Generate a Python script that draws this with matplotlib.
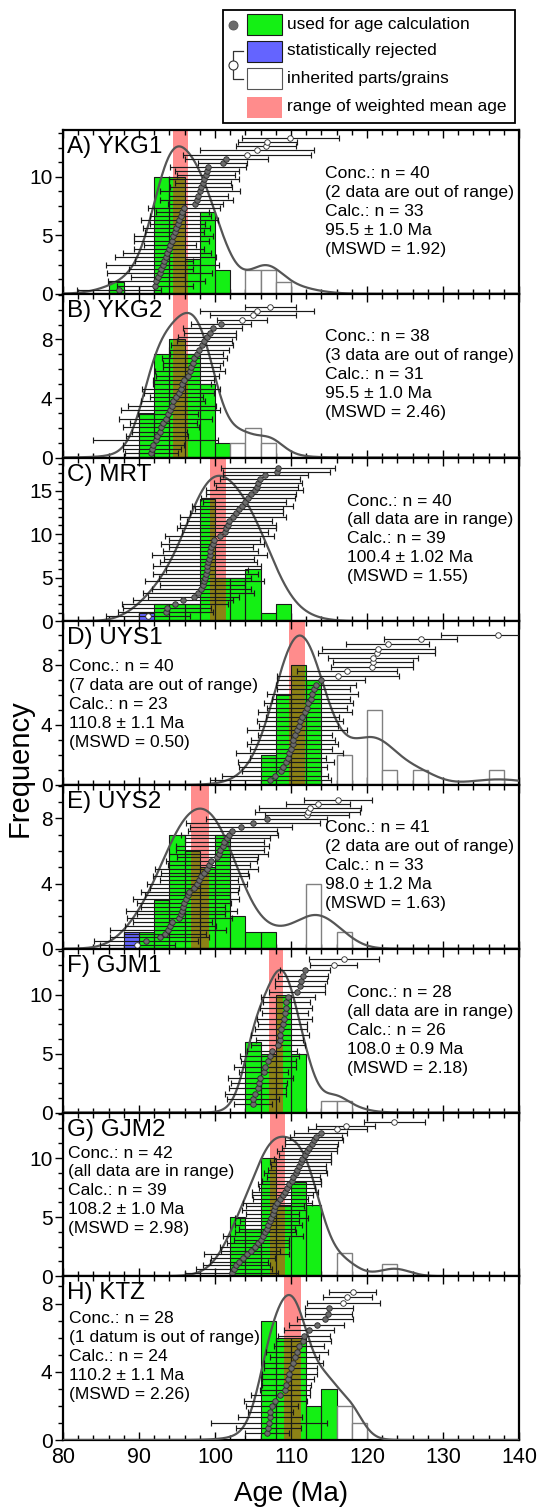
import numpy as np
import matplotlib
matplotlib.use("Agg")
import matplotlib.pyplot as plt
from matplotlib.patches import Rectangle
from matplotlib.lines import Line2D
from matplotlib.ticker import MultipleLocator

plt.rcParams['font.family'] = ['Liberation Sans', 'DejaVu Sans']

# ---- data ----
names = ['A) YKG1', 'B) YKG2', 'C) MRT', 'D) UYS1', 'E) UYS2', 'F) GJM1', 'G) GJM2', 'H) KTZ']
conc_n = [40, 38, 40, 40, 41, 28, 42, 28]
range_note = ['(2 data are out of range)', '(3 data are out of range)', '(all data are in range)',
              '(7 data are out of range)', '(2 data are out of range)', '(all data are in range)',
              '(all data are in range)', '(1 datum is out of range)']
wm_age = ['95.5', '95.5', '100.4', '110.8', '98.0', '108.0', '108.2', '110.2']
wm_err = ['1.0', '1.0', '1.02', '1.1', '1.2', '0.9', '1.0', '1.1']
mswd = ['1.92', '2.46', '1.55', '0.50', '1.63', '2.18', '2.98', '2.26']

used_ages = [
    [87.4, 92.1, 92.3, 92.5, 92.7, 92.9, 93.1, 93.3, 93.5, 93.7, 93.9, 94.1, 94.3, 94.5, 94.7, 94.9,
     95.1, 95.3, 95.5, 95.7, 95.9, 97.4, 97.6, 97.8, 98.0, 98.2, 98.4, 98.6, 98.8, 98.9, 99.1, 101.0, 101.5],
    [91.6, 91.7, 91.9, 92.2, 92.4, 92.7, 92.9, 93.2, 93.5, 93.8, 94.1, 94.3, 94.5, 94.9, 95.3, 95.5,
     95.7, 95.9, 96.4, 96.7, 96.9, 97.1, 97.3, 97.6, 97.9, 98.3, 98.6, 98.9, 99.3, 99.7, 100.8],
    [93.5, 93.7, 94.7, 95.8, 97.2, 97.8, 98.2, 98.4, 98.6, 98.7, 98.8, 98.9, 99.0, 99.1, 99.2, 99.3,
     99.4, 99.5, 99.7, 99.9, 100.6, 101.3, 101.5, 101.7, 101.9, 102.4, 102.8, 103.2, 103.6, 103.9,
     104.3, 104.7, 105.2, 105.5, 105.7, 105.9, 106.6, 108.1, 108.3],
    [107.3, 107.9, 108.7, 108.9, 109.3, 109.6, 109.8, 109.95, 110.2, 110.3, 110.5, 110.8, 111.0,
     111.2, 111.5, 111.8, 112.1, 112.3, 112.6, 112.8, 113.0, 113.3, 113.9],
    [90.9, 92.7, 93.4, 93.8, 94.1, 94.4, 95.3, 95.5, 95.6, 95.8, 95.95, 96.2, 96.4, 96.6, 97.3, 97.6,
     97.9, 98.2, 98.6, 98.9, 99.2, 99.5, 100.3, 100.5, 100.7, 101.0, 101.2, 101.6, 101.9, 102.3,
     103.4, 105.0, 106.8],
    [105.0, 105.0, 105.3, 105.6, 105.8, 105.95, 106.4, 106.6, 107.0, 107.2, 107.5, 108.3, 108.5,
     108.6, 108.7, 108.9, 109.1, 109.2, 109.3, 109.4, 109.6, 110.8, 111.2, 111.3, 111.6, 111.8],
    [102.2, 102.5, 102.8, 103.2, 103.7, 104.2, 104.7, 105.2, 105.7, 106.1, 106.3, 106.6, 106.8, 107.0,
     107.2, 107.4, 107.6, 107.8, 107.9, 108.2, 108.6, 108.9, 109.2, 109.5, 109.8, 110.1, 110.3, 110.6,
     110.8, 111.0, 111.3, 111.5, 111.8, 112.1, 112.4, 112.7, 113.0, 113.3, 113.9],
    [106.9, 107.0, 107.1, 107.2, 107.3, 107.5, 107.95, 108.6, 109.2, 109.4, 109.6, 109.8, 109.95,
     110.3, 110.5, 110.8, 111.1, 111.6, 111.7, 112.4, 113.4, 114.5, 114.9, 115.0],
]
used_errs = [
    [5.5, 5.0, 6.4, 3.6, 6.9, 4.2, 7.4, 3.8, 6.6, 5.8, 4.6, 3.4, 4.9, 5.2, 3.9, 4.4, 3.6, 5.1, 4.0,
     3.5, 4.7, 3.6, 4.8, 3.9, 5.3, 4.1, 3.7, 4.6, 3.8, 4.2, 5.0, 3.2, 5.5],
    [3.5, 3.8, 4.0, 8.2, 4.1, 3.6, 5.0, 4.4, 6.1, 3.9, 6.5, 5.8, 4.2, 3.5, 4.6, 5.1, 3.8, 4.0, 4.1,
     4.6, 3.7, 3.9, 4.3, 3.5, 3.9, 4.1, 3.6, 3.8, 3.4, 3.9, 4.0],
    [6.3, 5.8, 7.0, 6.6, 6.0, 7.3, 6.5, 5.6, 7.8, 6.1, 6.9, 5.4, 7.1, 6.4, 5.9, 7.6, 6.2, 5.5, 6.8,
     6.0, 7.2, 5.7, 6.5, 6.3, 5.6, 7.0, 6.1, 5.8, 6.6, 5.5, 6.2, 5.9, 6.4, 5.4, 5.8, 5.3, 5.6, 7.0, 7.5],
    [7.9, 7.0, 5.2, 5.8, 6.3, 5.0, 7.1, 5.4, 6.0, 5.5, 4.9, 6.6, 5.2, 5.7, 4.8, 6.2, 5.3, 5.9, 5.1,
     6.0, 4.8, 5.3, 5.8],
    [6.8, 6.5, 5.4, 7.6, 6.0, 5.2, 6.9, 5.8, 7.3, 5.5, 6.2, 7.0, 5.6, 6.4, 5.9, 6.6, 5.1, 6.3, 5.7,
     6.8, 5.4, 6.0, 5.3, 6.5, 5.8, 6.1, 5.2, 5.6, 6.4, 5.9, 6.7, 8.8, 8.0],
    [2.5, 3.4, 4.0, 3.8, 3.7, 4.3, 3.2, 4.1, 3.6, 3.9, 3.3, 3.5, 3.1, 3.8, 3.4, 3.2, 3.6, 3.0, 3.4,
     3.1, 3.5, 3.7, 3.3, 3.4, 3.3, 3.3],
    [6.1, 5.0, 4.4, 3.8, 4.2, 5.6, 3.9, 4.6, 4.1, 3.6, 5.3, 4.0, 3.7, 4.4, 3.9, 4.8, 3.5, 4.2, 3.8,
     4.5, 3.6, 4.0, 4.3, 3.7, 4.1, 3.9, 3.5, 4.2, 3.8, 3.6, 4.0, 3.7, 3.4, 3.9, 3.6, 3.5, 3.8, 3.4, 3.5],
    [2.9, 4.3, 7.6, 4.2, 3.0, 3.4, 4.2, 3.9, 3.3, 3.2, 3.4, 3.6, 3.5, 3.9, 3.2, 4.1, 3.3, 3.6, 3.4,
     3.3, 3.6, 3.7, 3.1, 3.1],
]
rej_ages = [[], [], [91.2], [], [89.8], [], [], []]
rej_errs = [[], [], [5.5], [], [4.9], [], [], []]
inh_ages = [
    [104.2, 105.5, 106.7, 106.9, 109.9],
    [103.6, 105.0, 105.5, 107.3],
    [],
    [116.2, 117.4, 120.6, 120.8, 120.8, 121.3, 121.5, 122.7, 127.1, 137.3],
    [112.1, 112.2, 112.5, 113.5, 116.2],
    [115.6, 117.0],
    [116.1, 117.2, 123.6],
    [116.9, 117.4, 118.1],
]
inh_errs = [
    [8.4, 7.5, 4.0, 3.9, 6.4],
    [3.3, 5.7, 7.5, 3.3],
    [],
    [8.0, 6.6, 5.4, 5.3, 5.9, 7.7, 7.4, 5.5, 4.8, 7.5],
    [5.5, 6.9, 6.7, 4.2, 4.5],
    [3.1, 4.6],
    [3.9, 3.9, 4.0],
    [4.8, 3.2, 3.1],
]
pdp_peak = [12.6, 9.8, 16.7, 9.95, 8.6, 12.1, 11.8, 8.5]

# ---- layout ----
y_max = [14, 11.1, 18.8, 10.9, 10.05, 13.9, 13.85, 9.6]
y_major = [5, 4, 5, 4, 4, 5, 5, 4]
y_minor = [1.25, 1, 1, 1, 1, 1.25, 1.25, 1]
rank_lims = [(0, 40), (0, 38), (-0.5, 42.7), (0, 36), (0, 43), (-0.5, 30), (0, 44.6), (-0.2, 29.9)]
text_x_px = [325, 325, 347, 69, 325, 347, 68, 69]
text_top_px = [36, 35, 36, 38, 35, 36, 33, 35]

GREEN = '#14f014'
BLUE = '#6464ff'
PINK = '#ff8c8c'
OLIVE = '#8c8216'

W, H = 538, 1508
fig = plt.figure(figsize=(W / 100, H / 100), dpi=100)

x0, x1 = 63, 519
top0, bot0 = 130, 1440
ph = (bot0 - top0) / 8
bins = np.arange(80, 142, 2)
xs = np.linspace(80, 140, 1201)

for i in range(8):
    top = top0 + i * ph
    ax = fig.add_axes([x0 / W, 1 - (top + ph) / H, (x1 - x0) / W, ph / H])
    ax.set_xlim(80, 140)
    ax.set_ylim(0, y_max[i])

    lo = float(wm_age[i]) - float(wm_err[i])
    hi = float(wm_age[i]) + float(wm_err[i])
    ax.axvspan(lo, hi, color=PINK, lw=0, zorder=1)

    cu, _ = np.histogram(used_ages[i], bins)
    cr, _ = np.histogram(rej_ages[i], bins)
    ci, _ = np.histogram(inh_ages[i], bins)
    left = bins[:-1]

    m = cu > 0
    ax.bar(left[m], cu[m], width=2, align='edge', color=GREEN, lw=0, zorder=2)
    for xl, h in zip(left[m], cu[m]):
        a, b = max(xl, lo), min(xl + 2, hi)
        if b > a:
            ax.add_patch(Rectangle((a, 0), b - a, h, color=OLIVE, lw=0, zorder=2.1))
    ax.bar(left[m], cu[m], width=2, align='edge', facecolor='none',
           edgecolor='#1a1a1a', lw=0.8, zorder=2.2)
    m = cr > 0
    ax.bar(left[m], cr[m], bottom=cu[m], width=2, align='edge', facecolor=BLUE,
           edgecolor='#1a1a1a', lw=0.8, zorder=2.2)
    m = ci > 0
    ax.bar(left[m], ci[m], bottom=(cu + cr)[m], width=2, align='edge', facecolor='white',
           edgecolor='#808080', lw=1.0, zorder=2.2)

    # probability density curve
    ages = np.array(used_ages[i] + rej_ages[i] + inh_ages[i])
    errs = np.array(used_errs[i] + rej_errs[i] + inh_errs[i])
    sig = errs / 2
    dens = np.sum(np.exp(-0.5 * ((xs[:, None] - ages[None, :]) / sig[None, :]) ** 2) / sig[None, :], axis=1)
    dens = dens * pdp_peak[i] / dens.max()
    ax.plot(xs, dens, color='#555555', lw=1.6, zorder=3)

    # ticks
    ax.xaxis.set_major_locator(MultipleLocator(10))
    ax.xaxis.set_minor_locator(MultipleLocator(2))
    ax.yaxis.set_major_locator(MultipleLocator(y_major[i]))
    ax.yaxis.set_minor_locator(MultipleLocator(y_minor[i]))
    ax.tick_params(axis='x', which='both', direction='in', top=True, bottom=True,
                   labelbottom=(i == 7), labelsize=15.5, pad=5, width=1)
    ax.tick_params(axis='x', which='major', length=6)
    ax.tick_params(axis='x', which='minor', length=3.5)
    ax.tick_params(axis='y', which='both', direction='out', right=False, labelsize=15, pad=1.5, width=1)
    ax.tick_params(axis='y', which='major', length=6)
    ax.tick_params(axis='y', which='minor', length=3.5)
    for s in ax.spines.values():
        s.set_linewidth(1.6)

    # single grain ages with error bars
    kind = np.array(['u'] * len(used_ages[i]) + ['r'] * len(rej_ages[i]) + ['i'] * len(inh_ages[i]))
    order = np.argsort(ages, kind='stable')
    ages, errs, kind = ages[order], errs[order], kind[order]
    ranks = np.arange(1, len(ages) + 1)
    ax2 = ax.twinx()
    ax2.set_ylim(*rank_lims[i])
    ax2.set_axis_off()
    ax2.errorbar(ages, ranks, xerr=errs, fmt='none', ecolor='#1a1a1a', elinewidth=0.85,
                 capsize=1.9, capthick=0.85, zorder=4)
    f = kind == 'u'
    ax2.plot(ages[f], ranks[f], 'o', ms=4.0, mfc='#6b6b6b', mec='#2a2a2a', mew=0.6, zorder=5)
    ax2.plot(ages[~f], ranks[~f], 'o', ms=4.0, mfc='white', mec='#2a2a2a', mew=0.6, zorder=5)

    ax2.text(4 / (x1 - x0), 1 - 6 / ph, names[i], transform=ax2.transAxes,
             fontsize=17.5, ha='left', va='top', zorder=6)
    note = (f'Conc.: n = {conc_n[i]}\n{range_note[i]}\nCalc.: n = {len(used_ages[i])}\n'
            f'{wm_age[i]} \u00b1 {wm_err[i]} Ma\n(MSWD = {mswd[i]})')
    ax2.text((text_x_px[i] - x0) / (x1 - x0), 1 - text_top_px[i] / ph, note,
             transform=ax2.transAxes, fontsize=12.6, ha='left', va='top',
             linespacing=1.33, zorder=6)

fig.text(20 / W, 1 - 768 / H, 'Frequency', rotation=90, ha='center', va='center', fontsize=21)
fig.text(291 / W, 1 - 1494 / H, 'Age (Ma)', ha='center', va='center', fontsize=20)

# ---- legend drawn in pixel coordinates ----
lg = fig.add_axes([0, 0, 1, 1])
lg.set_xlim(0, W)
lg.set_ylim(H, 0)
lg.set_axis_off()
lg.add_patch(Rectangle((223, 10), 292, 113, facecolor='white', edgecolor='black', lw=1.3))
lg.plot([233], [25], 'o', ms=6.5, mfc='#6b6b6b', mec='#555555', mew=0.6)
lg.add_patch(Rectangle((247, 14), 35, 21, facecolor=GREEN, edgecolor='#1a1a1a', lw=0.8))
lg.add_patch(Rectangle((247, 41), 35, 21, facecolor=BLUE, edgecolor='#1a1a1a', lw=0.8))
lg.add_patch(Rectangle((247, 68), 35, 21, facecolor='white', edgecolor='#555555', lw=0.8))
lg.add_patch(Rectangle((247, 97), 35, 21, facecolor=PINK, lw=0))
lg.add_line(Line2D([243, 233, 233, 243], [51, 51, 79, 79], color='#333333', lw=0.9))
lg.plot([233], [65], 'o', ms=6.5, mfc='white', mec='#333333', mew=0.8)
for ty, txt in zip([24, 51, 78, 107], ['used for age calculation', 'statistically rejected',
                                       'inherited parts/grains', 'range of weighted mean age']):
    lg.text(287, ty, txt, fontsize=12.4, ha='left', va='center')

fig.savefig('out.png', dpi=100)
